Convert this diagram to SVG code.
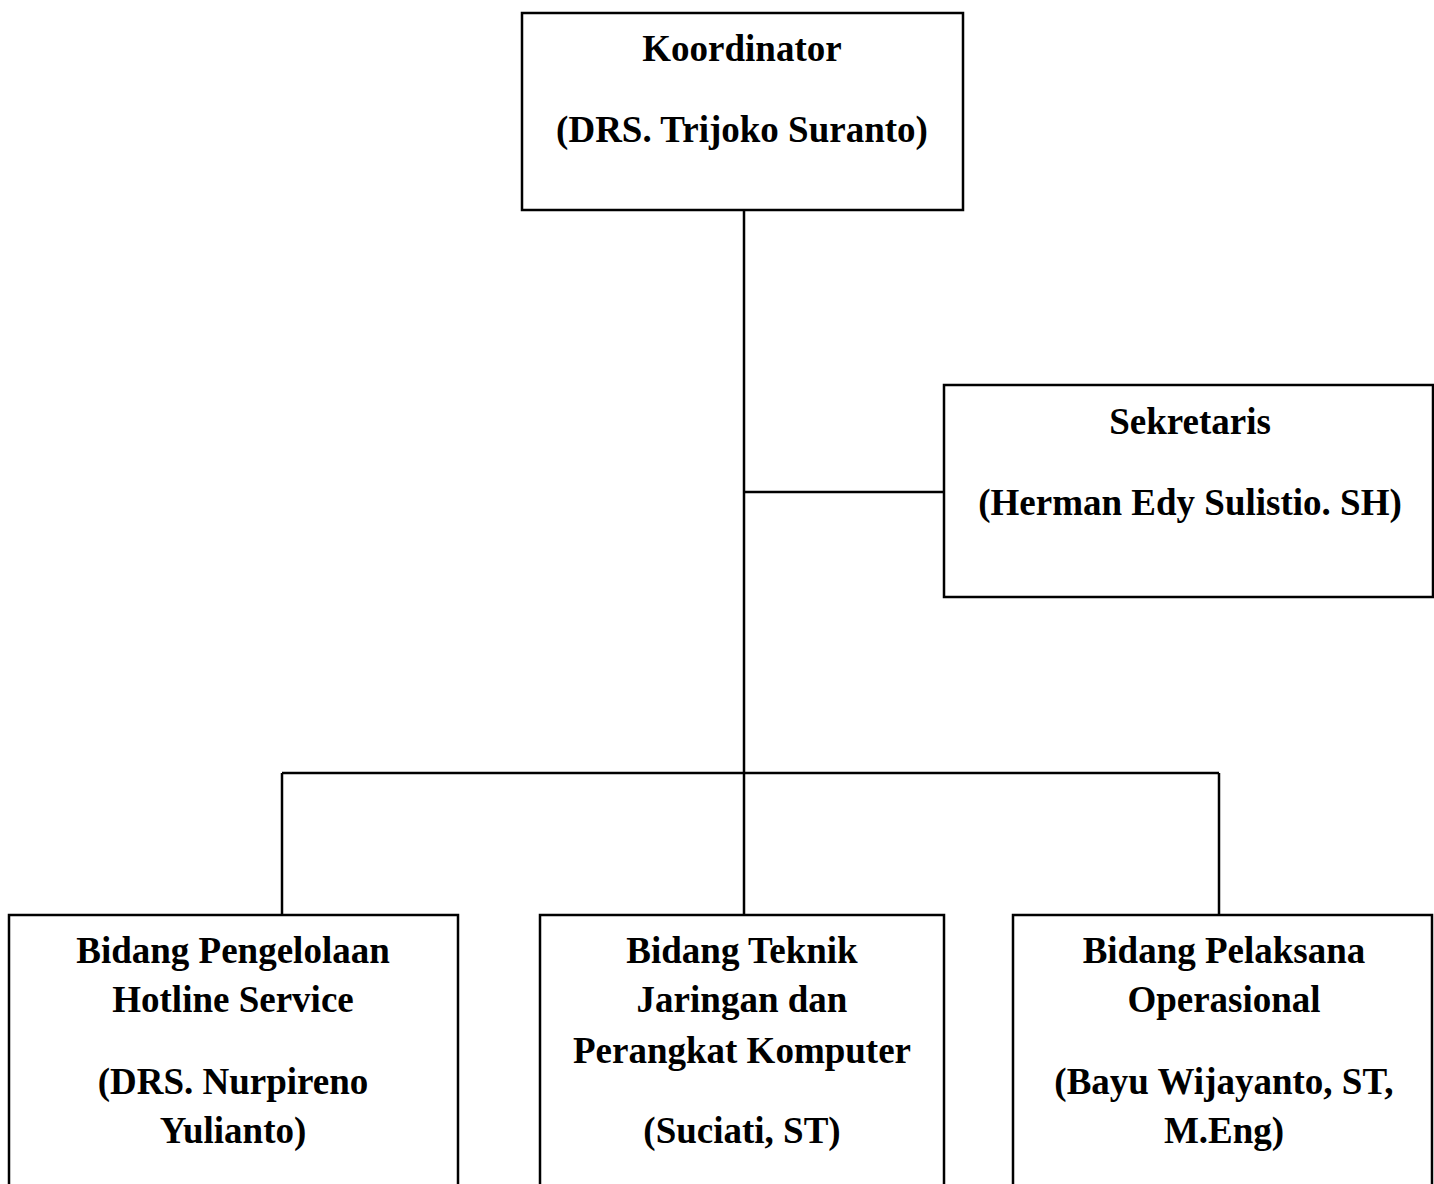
<svg xmlns="http://www.w3.org/2000/svg" width="1434" height="1184" viewBox="0 0 1434 1184">
<style>
.box{fill:#fff;stroke:#000;stroke-width:2.5}
.ln{stroke:#000;stroke-width:2.5;fill:none}
text{font-family:"Liberation Serif","Times New Roman",serif;font-weight:bold;font-size:37px;text-anchor:middle;fill:#000}
</style>
<rect width="1434" height="1184" fill="#fff"/>
<g id="connectors">
<line class="ln" x1="744" y1="210" x2="744" y2="915"/>
<line class="ln" x1="744" y1="492" x2="944" y2="492"/>
<line class="ln" x1="282" y1="773" x2="1219" y2="773"/>
<line class="ln" x1="282" y1="773" x2="282" y2="915"/>
<line class="ln" x1="1219" y1="773" x2="1219" y2="915"/>
</g>
<g id="koordinator">
<rect class="box" x="522" y="13" width="441" height="197"/>
<text x="742" y="61">Koordinator</text>
<text x="742" y="142">(DRS. Trijoko Suranto)</text>
</g>
<g id="sekretaris">
<rect class="box" x="944" y="385" width="489" height="212"/>
<text x="1190" y="434">Sekretaris</text>
<text x="1190" y="515">(Herman Edy Sulistio. SH)</text>
</g>
<g id="hotline">
<rect class="box" x="9" y="915" width="449" height="290"/>
<text x="233" y="963">Bidang Pengelolaan</text>
<text x="233" y="1012">Hotline Service</text>
<text x="233" y="1094">(DRS. Nurpireno</text>
<text x="233" y="1143">Yulianto)</text>
</g>
<g id="teknik">
<rect class="box" x="540" y="915" width="404" height="290"/>
<text x="742" y="963">Bidang Teknik</text>
<text x="742" y="1012">Jaringan dan</text>
<text x="742" y="1063">Perangkat Komputer</text>
<text x="742" y="1143">(Suciati, ST)</text>
</g>
<g id="operasional">
<rect class="box" x="1013" y="915" width="419" height="290"/>
<text x="1224" y="963">Bidang Pelaksana</text>
<text x="1224" y="1012">Operasional</text>
<text x="1224" y="1094">(Bayu Wijayanto, ST,</text>
<text x="1224" y="1143">M.Eng)</text>
</g>
</svg>
